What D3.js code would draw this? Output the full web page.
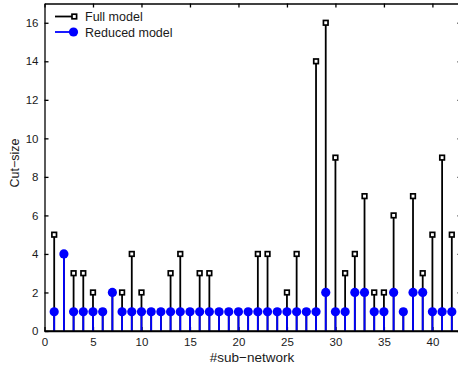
<!DOCTYPE html>
<html>
<head>
<meta charset="utf-8">
<script src="https://cdn.jsdelivr.net/npm/d3@7"></script>
<style>
  body { margin: 0; background: #fff; }
  svg { display: block; font-family: "Liberation Sans", Arial, sans-serif; }
  .axis path, .axis line { stroke: #000; stroke-width: 1.3; }
  .axis text { font-size: 11.5px; fill: #1a1a1a; }
</style>
</head>
<body>
<svg id="chart" width="458" height="371"></svg>
<script>
'use strict'

const subNetworks = d3.range(1, 43)
const fullModel = [5, 4, 3, 3, 2, 1, 2, 2, 4, 2, 1, 1, 3, 4, 1, 3, 3, 1, 1, 1, 1,
  4, 4, 1, 2, 4, 1, 14, 16, 9, 3, 4, 7, 2, 2, 6, 1, 7, 3, 5, 9, 5]
const reducedModel = [1, 4, 1, 1, 1, 1, 2, 1, 1, 1, 1, 1, 1, 1, 1, 1, 1, 1, 1, 1, 1,
  1, 1, 1, 1, 1, 1, 1, 2, 1, 1, 2, 2, 1, 1, 2, 1, 2, 2, 1, 1, 1]
const xTicks = [0, 5, 10, 15, 20, 25, 30, 35, 40]
const yTicks = [0, 2, 4, 6, 8, 10, 12, 14, 16]
const seriesNames = ['Full model', 'Reduced model']

const svg = d3.select('#chart')
const margin = { left: 44.5, top: 3.5, right: 461.5, bottom: 331 }

const x = d3.scaleLinear().domain([0, 43]).range([margin.left, margin.right])
const y = d3.scaleLinear().domain([0, 17]).range([margin.bottom, margin.top])

// axes, MATLAB style: ticks point inward, box on
svg.append('g').attr('class', 'axis')
  .attr('transform', `translate(0,${margin.bottom})`)
  .call(d3.axisBottom(x).tickValues(xTicks).tickSizeInner(-4).tickSizeOuter(0).tickPadding(6.5))
svg.append('g').attr('class', 'axis')
  .attr('transform', `translate(0,${margin.top})`)
  .call(d3.axisTop(x).tickValues(xTicks).tickSizeInner(-4).tickSizeOuter(0).tickFormat(''))
svg.append('g').attr('class', 'axis')
  .attr('transform', `translate(${margin.left},0)`)
  .call(d3.axisLeft(y).tickValues(yTicks).tickSizeInner(-4).tickSizeOuter(0).tickPadding(6))
svg.append('g').attr('class', 'axis')
  .attr('transform', `translate(${margin.right},0)`)
  .call(d3.axisRight(y).tickValues(yTicks).tickSizeInner(-4).tickSizeOuter(0).tickFormat(''))

svg.append('text')
  .attr('x', 252)
  .attr('y', 362)
  .attr('text-anchor', 'middle')
  .style('font-size', '13.5px')
  .style('fill', '#1a1a1a')
  .text('#sub−network')

svg.append('text')
  .attr('transform', 'translate(18.5,163) rotate(-90)')
  .attr('text-anchor', 'middle')
  .style('font-size', '12.5px')
  .style('fill', '#1a1a1a')
  .text('Cut−size')

// full model stems
const full = svg.append('g').selectAll('g')
  .data(subNetworks.map((n, i) => ({ n, v: fullModel[i] })))
  .enter().append('g')
full.append('line')
  .attr('x1', d => x(d.n)).attr('x2', d => x(d.n))
  .attr('y1', y(0)).attr('y2', d => y(d.v))
  .attr('stroke', '#000').attr('stroke-width', 1.8)
full.append('rect')
  .attr('x', d => x(d.n) - 2.3).attr('y', d => y(d.v) - 2.3)
  .attr('width', 4.6).attr('height', 4.6)
  .attr('fill', '#fff').attr('stroke', '#000').attr('stroke-width', 1.7)

// reduced model stems on top
const reduced = svg.append('g').selectAll('g')
  .data(subNetworks.map((n, i) => ({ n, v: reducedModel[i] })))
  .enter().append('g')
reduced.append('line')
  .attr('x1', d => x(d.n)).attr('x2', d => x(d.n))
  .attr('y1', y(0)).attr('y2', d => y(d.v))
  .attr('stroke', '#0000ff').attr('stroke-width', 1.8)
reduced.append('circle')
  .attr('cx', d => x(d.n)).attr('cy', d => y(d.v))
  .attr('r', 4.6)
  .attr('fill', '#0000ff')

// redraw bottom axis line over stems
svg.append('line')
  .attr('x1', margin.left).attr('x2', margin.right)
  .attr('y1', margin.bottom).attr('y2', margin.bottom)
  .attr('stroke', '#000').attr('stroke-width', 1.3)

// legend
const legend = svg.append('g')
const legendY = [16.5, 32]
legend.append('line').attr('x1', 55).attr('x2', 74).attr('y1', legendY[0]).attr('y2', legendY[0])
  .attr('stroke', '#000').attr('stroke-width', 1.8)
legend.append('rect').attr('x', 72).attr('y', legendY[0] - 2.3).attr('width', 4.6).attr('height', 4.6)
  .attr('fill', '#fff').attr('stroke', '#000').attr('stroke-width', 1.7)
legend.append('line').attr('x1', 55).attr('x2', 73).attr('y1', legendY[1]).attr('y2', legendY[1])
  .attr('stroke', '#0000ff').attr('stroke-width', 1.8)
legend.append('circle').attr('cx', 73.5).attr('cy', legendY[1]).attr('r', 4.6).attr('fill', '#0000ff')
legend.selectAll('text.lbl')
  .data(seriesNames)
  .enter().append('text')
  .attr('class', 'lbl')
  .attr('x', 85)
  .attr('y', (d, i) => legendY[i] + 4.5)
  .style('font-size', '12.5px')
  .style('fill', '#1a1a1a')
  .text(d => d)
</script>
</body>
</html>
